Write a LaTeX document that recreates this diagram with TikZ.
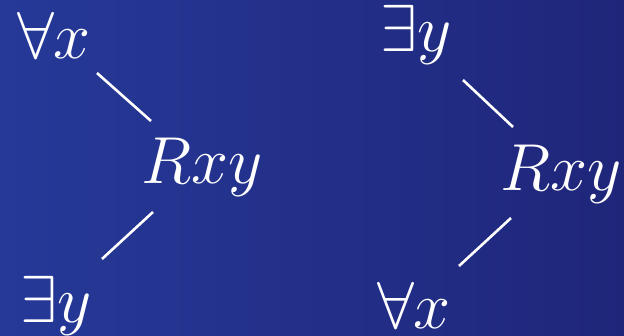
\RequirePackage{fix-cm}
\documentclass[tikz,border=0pt]{standalone}
\usetikzlibrary{calc}
\definecolor{bgleft}{RGB}{38,57,152}
\definecolor{bgright}{RGB}{31,38,122}
\tikzset{
  lbl/.style={text=white, inner sep=0pt, anchor=base, font=\fontsize{66.5}{74}\selectfont},
  edge/.style={draw=white, line width=2.6pt}
}
\begin{document}
\begin{tikzpicture}[x=1pt, y=-1pt]
  \shade[left color=bgleft, right color=bgright] (0,0) rectangle (624,335);
  \useasboundingbox (0,0) rectangle (624,335);
  % left tree
  \node[lbl] (fx) at (54,58) {$\forall x$};
  \node[lbl] (r) at (202.5,183) {$Rxy$};
  \node[lbl] (ey) at (56,322) {$\exists y$};
  \draw[edge] ($(fx.base)+(43,15)$) -- ($(r.base)+(-51.5,-62)$);
  \draw[edge] ($(ey.base)+(46,-63)$) -- ($(r.base)+(-49.5,29)$);
  % right tree
  \node[lbl] (ey2) at (416.5,51) {$\exists y$};
  \node[lbl] (r2) at (561,190) {$Rxy$};
  \node[lbl] (fx2) at (414,328) {$\forall x$};
  \draw[edge] ($(ey2.base)+(46.5,29)$) -- ($(r2.base)+(-48,-63)$);
  \draw[edge] ($(fx2.base)+(45,-62)$) -- ($(r2.base)+(-50,28)$);
\end{tikzpicture}
\end{document}
